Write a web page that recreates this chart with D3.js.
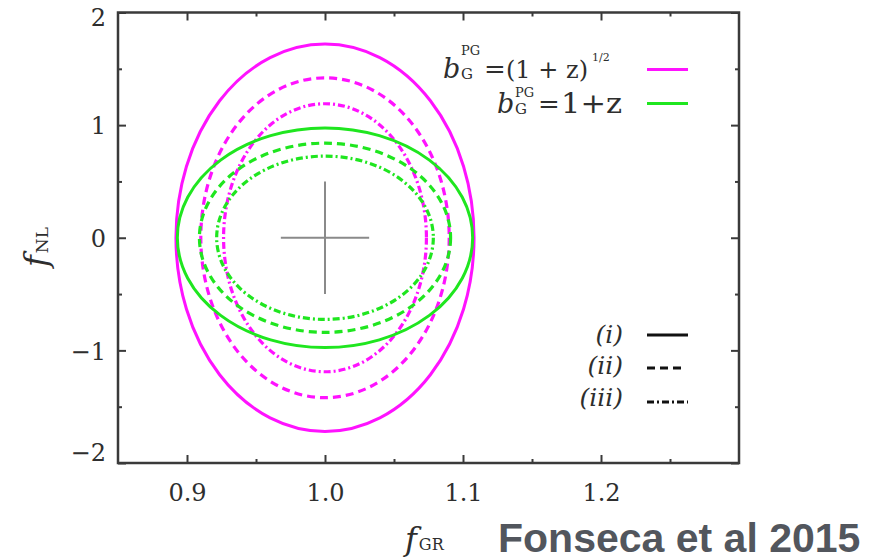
<!DOCTYPE html>
<html>
<head>
<meta charset="utf-8">
<script src="https://cdn.jsdelivr.net/npm/d3@7"></script>
<style>
  html, body { margin: 0; padding: 0; background: #fff; }
  svg { display: block; }
  .tick text { font-family: "DejaVu Serif", serif; fill: #2e2e2e; }
</style>
</head>
<body>
<svg id="chart" width="880" height="560"></svg>
<script>
// Forecast constraints on (f_GR, f_NL) for two bias models and three survey cases
const cases = ["(i)", "(ii)", "(iii)"];
const caseDash = [null, "8,5", "7,3,2,3"];

const fiducial = { fGR: 1.0, fNL: 0.0 };

// 1-sigma semi-axes, b_G^PG = (1+z)^{1/2}
const sqrtBiasSigmaGR = [0.108, 0.090, 0.0735];
const sqrtBiasSigmaNL = [1.72, 1.42, 1.19];
// 1-sigma semi-axes, b_G^PG = 1+z
const linBiasSigmaGR = [0.107, 0.091, 0.0785];
const linBiasSigmaNL = [0.975, 0.84, 0.725];

// fiducial cross half-lengths
const crossHalfGR = 0.032;
const crossHalfNL = 0.5;

const xMajorTicks = [0.9, 1.0, 1.1, 1.2];
const xMinorTicks = [0.95, 1.05, 1.15, 1.25];
const yMajorTicks = [-2, -1, 0, 1, 2];
const yMinorTicks = [-1.5, -0.5, 0.5, 1.5];

const magenta = "#ff12ff";
const green = "#1fe61f";

const svg = d3.select("#chart");

const frameL = 118, frameR = 739, frameT = 12.5, frameB = 463;
const x = d3.scaleLinear().domain([0.85, 1.3]).range([frameL, frameR]);
const y = d3.scaleLinear().domain([-2, 2]).range([frameB, frameT]);

// ellipses
const plot = svg.append("g");
function drawSet(sx, sy, color) {
  plot.selectAll(null)
    .data(cases.map((c, i) => ({ c, i, a: sx[i], b: sy[i] })))
    .join("ellipse")
    .attr("cx", x(fiducial.fGR))
    .attr("cy", y(fiducial.fNL))
    .attr("rx", d => x(fiducial.fGR + d.a) - x(fiducial.fGR))
    .attr("ry", d => y(fiducial.fNL) - y(fiducial.fNL + d.b))
    .attr("fill", "none")
    .attr("stroke", color)
    .attr("stroke-width", d => d.i === 0 ? 3 : 3.2)
    .attr("stroke-dasharray", d => caseDash[d.i]);
}
drawSet(sqrtBiasSigmaGR, sqrtBiasSigmaNL, magenta);
drawSet(linBiasSigmaGR, linBiasSigmaNL, green);

// fiducial cross
plot.append("line")
  .attr("x1", x(fiducial.fGR - crossHalfGR)).attr("x2", x(fiducial.fGR + crossHalfGR))
  .attr("y1", y(fiducial.fNL)).attr("y2", y(fiducial.fNL))
  .attr("stroke", "#8a8a8a").attr("stroke-width", 2);
plot.append("line")
  .attr("x1", x(fiducial.fGR)).attr("x2", x(fiducial.fGR))
  .attr("y1", y(fiducial.fNL - crossHalfNL)).attr("y2", y(fiducial.fNL + crossHalfNL))
  .attr("stroke", "#8a8a8a").attr("stroke-width", 2);

// axes: ticks on all four sides, pointing inward
function styleAxis(g) {
  g.select(".domain").remove();
  g.selectAll(".tick line").attr("stroke", "#3a3a3a").attr("stroke-width", 2);
}
const fmtX = d3.format(".1f");
const fmtY = d => (d < 0 ? "\u2212" + Math.abs(d) : String(d));

svg.append("g").attr("transform", `translate(0,${frameB})`)
  .call(d3.axisBottom(x).tickValues(xMajorTicks).tickSize(-8).tickPadding(21).tickFormat(fmtX))
  .call(styleAxis)
  .call(g => g.selectAll(".tick text").attr("font-size", 24));
svg.append("g").attr("transform", `translate(0,${frameB})`)
  .call(d3.axisBottom(x).tickValues(xMinorTicks).tickSize(-4).tickFormat(""))
  .call(styleAxis);
svg.append("g").attr("transform", `translate(0,${frameT})`)
  .call(d3.axisTop(x).tickValues(xMajorTicks).tickSize(-8).tickFormat(""))
  .call(styleAxis);
svg.append("g").attr("transform", `translate(0,${frameT})`)
  .call(d3.axisTop(x).tickValues(xMinorTicks).tickSize(-4).tickFormat(""))
  .call(styleAxis);

svg.append("g").attr("transform", `translate(${frameL},0)`)
  .call(d3.axisLeft(y).tickValues(yMajorTicks).tickSize(-8).tickPadding(12).tickFormat(fmtY))
  .call(styleAxis)
  .call(g => g.selectAll(".tick text").attr("font-size", 24)
    .attr("dy", d => d === 2 ? "0.56em" : d === -2 ? "-0.1em" : "0.36em"));
svg.append("g").attr("transform", `translate(${frameL},0)`)
  .call(d3.axisLeft(y).tickValues(yMinorTicks).tickSize(-4).tickFormat(""))
  .call(styleAxis);
svg.append("g").attr("transform", `translate(${frameR},0)`)
  .call(d3.axisRight(y).tickValues(yMajorTicks).tickSize(-8).tickFormat(""))
  .call(styleAxis);
svg.append("g").attr("transform", `translate(${frameR},0)`)
  .call(d3.axisRight(y).tickValues(yMinorTicks).tickSize(-4).tickFormat(""))
  .call(styleAxis);

// frame
svg.append("rect")
  .attr("x", frameL).attr("y", frameT)
  .attr("width", frameR - frameL).attr("height", frameB - frameT)
  .attr("fill", "none").attr("stroke", "#3a3a3a").attr("stroke-width", 2.5);

// axis titles
const serif = "'DejaVu Serif', serif";
const yl = svg.append("text")
  .attr("transform", "translate(47,267) rotate(-90)")
  .attr("font-family", serif).attr("fill", "#2e2e2e");
yl.append("tspan").attr("font-style", "italic").attr("font-size", 32).text("f");
yl.append("tspan").attr("font-size", 17).attr("dx", 2).attr("dy", 1).text("NL");

const xl = svg.append("text")
  .attr("x", 405).attr("y", 550)
  .attr("font-family", serif).attr("fill", "#2e2e2e");
xl.append("tspan").attr("font-style", "italic").attr("font-size", 32).text("f");
xl.append("tspan").attr("font-size", 16).attr("dx", 2).attr("dy", 0).text("GR");

// bias legend: each entry is one text element with positioned tspans
const lg = svg.append("g").attr("font-family", serif).attr("fill", "#2e2e2e");
function biasLabel(xb, yb, supY, rhs, rhsX, rhsSize, rhsLen, power) {
  const t = lg.append("text").attr("x", xb).attr("y", yb);
  t.append("tspan").attr("x", xb).attr("y", yb)
    .attr("font-style", "italic").attr("font-size", 27).text("b");
  t.append("tspan").attr("x", xb + 18).attr("y", supY).attr("font-size", 13).text("PG");
  t.append("tspan").attr("x", xb + 18).attr("y", yb + 1).attr("font-size", 15).text("G");
  t.append("tspan").attr("x", xb + 41).attr("y", yb).attr("font-size", 26).text("=");
  const r = t.append("tspan").attr("x", rhsX).attr("y", yb).attr("font-size", rhsSize).text(rhs);
  if (rhsLen) r.attr("textLength", rhsLen).attr("lengthAdjust", "spacingAndGlyphs");
  if (power) {
    t.append("tspan").attr("x", 592).attr("y", yb - 17)
      .attr("font-size", 11).text(power);
  }
}
biasLabel(443, 78, 55, "(1 + z)", 506, 24, null, "1/2");
biasLabel(497, 113, 97, "1+z", 561, 27, 61, null);

lg.append("line").attr("x1", 647).attr("x2", 688).attr("y1", 69.5).attr("y2", 69.5)
  .attr("stroke", magenta).attr("stroke-width", 3);
lg.append("line").attr("x1", 647).attr("x2", 688).attr("y1", 103.5).attr("y2", 103.5)
  .attr("stroke", green).attr("stroke-width", 3);

// survey-case legend
const caseY = [343, 374, 406];
const caseLineY = [335, 368, 402];
const cg = svg.append("g");
cg.selectAll("text").data(cases).join("text")
  .attr("x", 623).attr("y", (d, i) => caseY[i])
  .attr("text-anchor", "end")
  .attr("font-family", serif).attr("font-style", "italic").attr("font-size", 25)
  .attr("fill", "#2e2e2e")
  .text(d => d);
cg.selectAll("line").data(cases).join("line")
  .attr("x1", 647).attr("x2", (d, i) => i === 1 ? 683 : 688)
  .attr("y1", (d, i) => caseLineY[i]).attr("y2", (d, i) => caseLineY[i])
  .attr("stroke", "#111").attr("stroke-width", 3)
  .attr("stroke-dasharray", (d, i) => caseDash[i]);

// credit
svg.append("text")
  .attr("x", 498).attr("y", 552)
  .attr("font-family", "'Liberation Sans', Arial, sans-serif")
  .attr("font-weight", "bold").attr("font-size", 41)
  .attr("fill", "#52565d")
  .text("Fonseca et al 2015");
</script>
</body>
</html>
